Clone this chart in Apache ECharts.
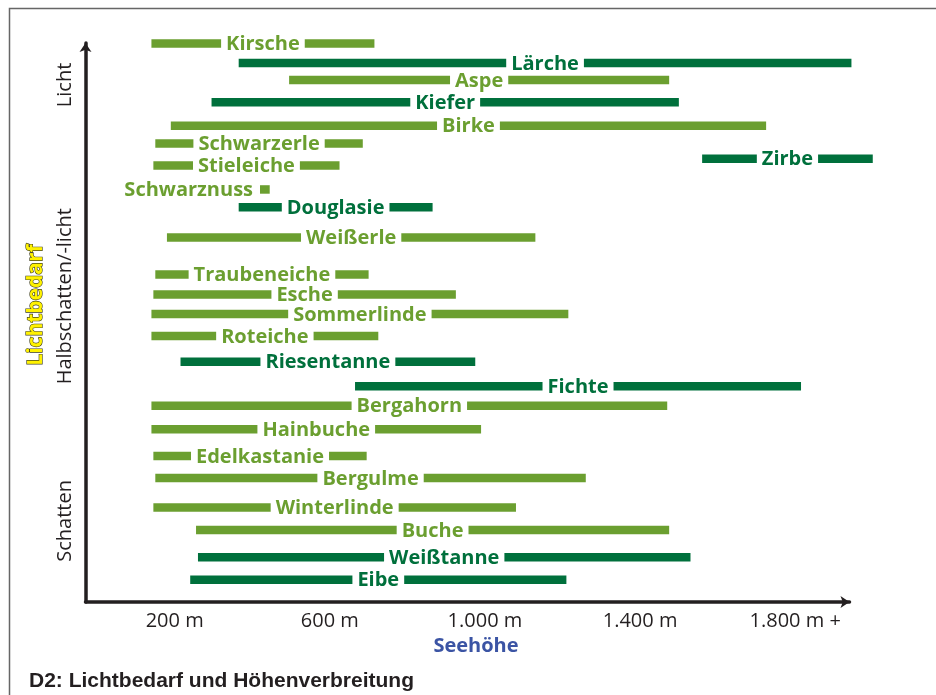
<!DOCTYPE html>
<html>
<head>
<meta charset="utf-8">
<script src="https://cdn.jsdelivr.net/npm/echarts@6/dist/echarts.min.js"></script>
<style>
  html, body { margin: 0; padding: 0; background: #fff; }
  #main { width: 936px; height: 695px; }
</style>
</head>
<body>
<div id="main"></div>
<script>
// Baumarten, Höhenverbreitung (m) und Lichtbedarf (0 = Schatten, 100 = Licht)
var species = ['Kirsche', 'Lärche', 'Aspe', 'Kiefer', 'Birke', 'Schwarzerle', 'Stieleiche', 'Zirbe',
  'Schwarznuss', 'Douglasie', 'Weißerle', 'Traubeneiche', 'Esche', 'Sommerlinde', 'Roteiche',
  'Riesentanne', 'Fichte', 'Bergahorn', 'Hainbuche', 'Edelkastanie', 'Bergulme', 'Winterlinde',
  'Buche', 'Weißtanne', 'Eibe'];
var fromHeight = [140, 365, 495, 295, 190, 150, 145, 1560, 420, 365, 180, 150, 145, 140, 140,
  215, 665, 140, 140, 145, 150, 145, 255, 260, 240];
var toHeight = [715, 1945, 1475, 1500, 1725, 685, 625, 2000, 445, 865, 1130, 700, 925, 1215, 725,
  975, 1815, 1470, 990, 695, 1260, 1080, 1475, 1530, 1210];
var lightNeed = [99.9, 96.4, 93.4, 89.4, 85.2, 82.0, 78.1, 79.3, 73.8, 70.6, 65.2, 58.6, 55.0,
  51.5, 47.6, 43.0, 38.6, 35.1, 30.9, 26.1, 22.2, 16.9, 12.9, 8.0, 4.0];
// L = Laubholz, N = Nadelholz
var kind = ['L', 'N', 'L', 'N', 'L', 'L', 'L', 'N', 'L', 'N', 'L', 'L', 'L', 'L', 'L',
  'N', 'N', 'L', 'L', 'L', 'L', 'L', 'L', 'N', 'N'];

var xTicks = [200, 600, 1000, 1400, 1800];
var xTickLabels = ['200 m', '600 m', '1.000 m', '1.400 m', '1.800 m +'];
var yTicks = [92.5, 54.7, 14.5];
var yTickLabels = ['Licht', 'Halbschatten/-licht', 'Schatten'];

var colors = { L: '#6b9f30', N: '#00703c' };
var labelFont = 'bold 20px "Open Sans"';

var measureCtx = document.createElement('canvas').getContext('2d');
function textWidth(t) {
  measureCtx.font = labelFont;
  return measureCtx.measureText(t).width;
}

var data = species.map(function (s, i) {
  return [fromHeight[i], toHeight[i], lightNeed[i]];
});

function renderItem(params, api) {
  var i = params.dataIndex;
  var p0 = api.coord([api.value(0), api.value(2)]);
  var p1 = api.coord([api.value(1), api.value(2)]);
  var y = p0[1], x0 = p0[0], x1 = p1[0];
  var col = colors[kind[i]];
  var w = textWidth(species[i]);
  var gap = 5, h = 8.5;
  var kids = [];
  var mid = (x0 + x1) / 2;
  if (x1 - x0 < w + 4 * gap) {
    // Balken zu kurz: Beschriftung links davon
    kids.push({ type: 'rect', shape: { x: x0, y: y - h / 2, width: x1 - x0, height: h }, style: { fill: col } });
    kids.push({ type: 'text', style: { text: species[i], x: x0 - gap - 2, y: y + 1, align: 'right', verticalAlign: 'middle', font: labelFont, fill: col } });
  } else {
    var a = mid - w / 2 - gap, b = mid + w / 2 + gap;
    kids.push({ type: 'rect', shape: { x: x0, y: y - h / 2, width: a - x0, height: h }, style: { fill: col } });
    kids.push({ type: 'rect', shape: { x: b, y: y - h / 2, width: x1 - b, height: h }, style: { fill: col } });
    kids.push({ type: 'text', style: { text: species[i], x: mid, y: y + 1, align: 'center', verticalAlign: 'middle', font: labelFont, fill: col } });
  }
  return { type: 'group', children: kids };
}

var chart = echarts.init(document.getElementById('main'));
chart.setOption({
  animation: false,
  backgroundColor: '#fff',
  grid: { left: 85.5, right: 86.5, top: 43, bottom: 93, outerBoundsMode: 'none' },
  xAxis: {
    type: 'value',
    min: -30,
    max: 1940,
    name: 'Seehöhe',
    nameLocation: 'middle',
    nameGap: 30,
    nameTextStyle: { color: '#3b54a4', fontFamily: 'Open Sans', fontWeight: 'bold', fontSize: 20, padding: [0, 0, 0, 17] },
    axisLine: { onZero: false, symbol: ['none', 'arrow'], symbolSize: [9, 9], lineStyle: { color: '#231f20', width: 3.5 } },
    axisTick: { show: false },
    splitLine: { show: false },
    axisLabel: {
      customValues: xTicks,
      margin: 9,
      color: '#231f20',
      fontFamily: 'Open Sans',
      fontSize: 20,
      formatter: function (v) { return xTickLabels[xTicks.indexOf(v)]; }
    }
  },
  yAxis: {
    type: 'value',
    min: 0,
    max: 100,
    name: 'Lichtbedarf',
    nameLocation: 'middle',
    nameRotate: 90,
    nameGap: 38,
    nameTextStyle: {
      color: '#fff200', fontFamily: 'Open Sans', fontWeight: 'bold', fontSize: 21,
      textBorderColor: '#3a3a1a', textBorderWidth: 1.2, padding: [0, 0, 0, 35]
    },
    axisLine: { show: true, onZero: false, symbol: ['none', 'arrow'], symbolSize: [9, 9], lineStyle: { color: '#231f20', width: 3.5 } },
    axisTick: { show: false },
    splitLine: { show: false },
    axisLabel: {
      customValues: yTicks,
      rotate: 90,
      margin: 10,
      color: '#231f20',
      fontFamily: 'Open Sans',
      fontSize: 20,
      formatter: function (v) { return yTickLabels[yTicks.indexOf(v)]; }
    }
  },
  graphic: [
    { type: 'rect', z: -1, shape: { x: 9.5, y: 8.5, width: 1000, height: 1000 }, style: { fill: 'none', stroke: '#666', lineWidth: 1.5 } },
    { type: 'text', left: 29, top: 671, style: { text: 'D2: Lichtbedarf und Höhenverbreitung', font: 'bold 21px "Liberation Sans"', fill: '#231f20' } }
  ],
  series: [{
    type: 'custom',
    clip: false,
    renderItem: renderItem,
    encode: { x: [0, 1], y: 2 },
    data: data
  }]
});
</script>
</body>
</html>
